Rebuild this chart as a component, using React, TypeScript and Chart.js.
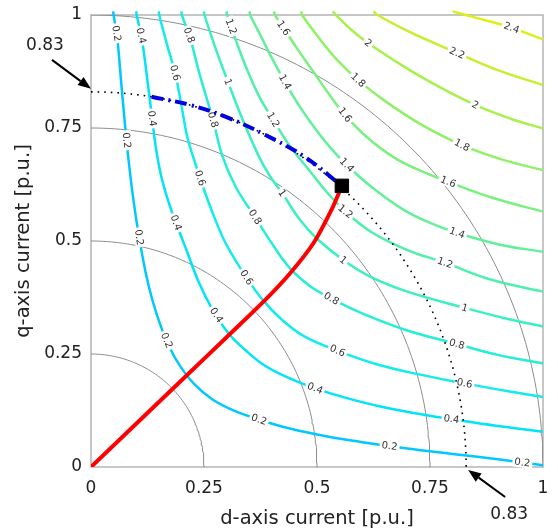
import React, { useEffect, useRef } from 'react';
import { Chart, registerables } from 'chart.js';

Chart.register(...registerables);

type P = [number, number];

// ---------- axes ----------
const xTicks = [0, 0.25, 0.5, 0.75, 1];
const yTicks = [0, 0.25, 0.5, 0.75, 1];
const xTitle = 'd-axis current [p.u.]';
const yTitle = 'q-axis current [p.u.]';

// ---------- torque contour levels ----------
const contourLevels = [0.2, 0.4, 0.6, 0.8, 1, 1.2, 1.4, 1.6, 1.8, 2, 2.2, 2.4];
const contourColors = [
  '#00c8ff', '#00e4f6', '#12ecea', '#26eed6', '#3af0c2', '#4ef0ac',
  '#62f098', '#7af07e', '#90f066', '#a8f04c', '#c4f02e', '#dcf014',
];

// contour lines (id, iq)
const c02: P[] = [[0.049, 1.008], [0.05, 1.0], [0.058, 0.95], [0.066, 0.86], [0.074, 0.77], [0.083, 0.68], [0.094, 0.59], [0.107, 0.505], [0.121, 0.43], [0.137, 0.365], [0.155, 0.31], [0.175, 0.262], [0.198, 0.222], [0.228, 0.184], [0.268, 0.15], [0.318, 0.124], [0.374, 0.104], [0.44, 0.085], [0.52, 0.068], [0.6, 0.055], [0.7, 0.041], [0.8, 0.029], [0.9, 0.017], [1.0, 0.004], [1.008, 0.003]];
const c04: P[] = [[0.1, 1.008], [0.101, 1.0], [0.112, 0.95], [0.123, 0.87], [0.133, 0.79], [0.143, 0.71], [0.155, 0.645], [0.172, 0.585], [0.192, 0.53], [0.213, 0.475], [0.238, 0.41], [0.268, 0.35], [0.304, 0.296], [0.34, 0.26], [0.385, 0.224], [0.44, 0.196], [0.496, 0.174], [0.56, 0.154], [0.64, 0.134], [0.74, 0.115], [0.85, 0.098], [0.93, 0.087], [1.0, 0.078], [1.008, 0.077]];
const c06: P[] = [[0.15, 1.008], [0.151, 1.0], [0.168, 0.935], [0.186, 0.872], [0.2, 0.8], [0.213, 0.73], [0.228, 0.68], [0.246, 0.625], [0.268, 0.565], [0.293, 0.505], [0.318, 0.46], [0.345, 0.418], [0.378, 0.372], [0.42, 0.328], [0.47, 0.29], [0.546, 0.257], [0.63, 0.228], [0.72, 0.206], [0.827, 0.185], [0.92, 0.168], [1.0, 0.155], [1.008, 0.154]];
const c08: P[] = [[0.2, 1.008], [0.201, 1.0], [0.219, 0.95], [0.24, 0.87], [0.27, 0.768], [0.29, 0.69], [0.32, 0.62], [0.363, 0.553], [0.4, 0.495], [0.44, 0.44], [0.485, 0.4], [0.533, 0.372], [0.6, 0.34], [0.7, 0.302], [0.81, 0.272], [0.9, 0.248], [1.0, 0.229], [1.008, 0.228]];
const c10: P[] = [[0.25, 1.008], [0.251, 1.0], [0.276, 0.925], [0.303, 0.852], [0.335, 0.77], [0.37, 0.69], [0.395, 0.645], [0.423, 0.606], [0.46, 0.55], [0.5, 0.505], [0.558, 0.458], [0.62, 0.42], [0.7, 0.388], [0.827, 0.352], [0.92, 0.328], [1.0, 0.311], [1.008, 0.31]];
const c12: P[] = [[0.3, 1.008], [0.301, 1.0], [0.322, 0.94], [0.345, 0.88], [0.372, 0.82], [0.403, 0.768], [0.44, 0.71], [0.48, 0.66], [0.52, 0.61], [0.562, 0.566], [0.62, 0.52], [0.7, 0.48], [0.783, 0.452], [0.88, 0.416], [1.0, 0.388], [1.008, 0.387]];
const c14: P[] = [[0.351, 1.008], [0.352, 1.0], [0.375, 0.955], [0.4, 0.905], [0.429, 0.852], [0.46, 0.8], [0.495, 0.75], [0.53, 0.706], [0.566, 0.668], [0.62, 0.62], [0.69, 0.57], [0.75, 0.54], [0.81, 0.518], [0.9, 0.493], [1.0, 0.476], [1.008, 0.475]];
const c16: P[] = [[0.405, 1.008], [0.407, 1.0], [0.43, 0.965], [0.46, 0.92], [0.495, 0.87], [0.53, 0.82], [0.562, 0.779], [0.61, 0.73], [0.67, 0.685], [0.73, 0.655], [0.79, 0.631], [0.89, 0.595], [1.0, 0.565], [1.008, 0.564]];
const c18: P[] = [[0.465, 1.008], [0.467, 1.0], [0.5, 0.955], [0.545, 0.9], [0.591, 0.856], [0.65, 0.81], [0.73, 0.758], [0.821, 0.712], [0.91, 0.68], [1.0, 0.657], [1.008, 0.656]];
const c20: P[] = [[0.535, 1.008], [0.542, 1.0], [0.575, 0.968], [0.613, 0.938], [0.67, 0.9], [0.75, 0.852], [0.85, 0.801], [0.93, 0.77], [1.0, 0.749], [1.008, 0.747]];
const c22: P[] = [[0.625, 1.008], [0.634, 1.0], [0.69, 0.97], [0.75, 0.942], [0.81, 0.916], [0.9, 0.878], [1.0, 0.845], [1.008, 0.843]];
const c24: P[] = [[0.8, 1.008], [0.855, 0.993], [0.93, 0.972], [1.0, 0.946], [1.008, 0.944]];
const contourLines: P[][] = [c02, c04, c06, c08, c10, c12, c14, c16, c18, c20, c22, c24];

// inline contour label spots (id, iq)
const lab02: P[] = [[0.06, 0.96], [0.08, 0.723], [0.113, 0.509], [0.17, 0.281], [0.374, 0.111], [0.661, 0.049], [0.956, 0.022]];
const lab04: P[] = [[0.119, 0.956], [0.142, 0.772], [0.192, 0.542], [0.285, 0.341], [0.496, 0.175], [0.799, 0.115]];
const lab06: P[] = [[0.186, 0.872], [0.241, 0.639], [0.345, 0.42], [0.546, 0.259], [0.827, 0.188]];
const lab08: P[] = [[0.219, 0.956], [0.27, 0.768], [0.363, 0.553], [0.533, 0.374], [0.81, 0.274]];
const lab10: P[] = [[0.303, 0.852], [0.423, 0.606], [0.558, 0.458], [0.827, 0.354]];
const lab12: P[] = [[0.319, 0.978], [0.403, 0.768], [0.562, 0.564], [0.783, 0.451]];
const lab14: P[] = [[0.429, 0.852], [0.566, 0.668], [0.81, 0.518]];
const lab16: P[] = [[0.429, 0.973], [0.562, 0.779], [0.79, 0.631]];
const lab18: P[] = [[0.591, 0.856], [0.821, 0.712]];
const lab20: P[] = [[0.613, 0.938], [0.85, 0.801]];
const lab22: P[] = [[0.81, 0.916]];
const lab24: P[] = [[0.931, 0.973]];
const contourLabelSpots: P[][] = [lab02, lab04, lab06, lab08, lab10, lab12, lab14, lab16, lab18, lab20, lab22, lab24];

// ---------- current circles ----------
const circleRadii = [0.25, 0.5, 0.75, 1];
const limitRadius = 0.83;

// ---------- trajectories ----------
const mtpaD = [0, 0.208, 0.3, 0.385, 0.44, 0.492, 0.532, 0.555];
const mtpaQ = [0, 0.199, 0.287, 0.369, 0.428, 0.495, 0.569, 0.622];
const fwD = [0.134, 0.219, 0.3, 0.385, 0.473, 0.555];
const fwQ = [0.819, 0.801, 0.774, 0.735, 0.686, 0.622];
const opPointD = [0.555];
const opPointQ = [0.622];

// ---------- annotations ----------
const annotations = [
  { axis: 'y', value: 0.83, text: '0.83' },
  { axis: 'x', value: 0.83, text: '0.83' },
];

const FONT = '"DejaVu Sans", Verdana, sans-serif';

function arcPoints(r: number, fromDeg: number, toDeg: number, step = 1) {
  const pts: { x: number; y: number }[] = [];
  const n = Math.ceil(Math.abs(toDeg - fromDeg) / step);
  for (let i = 0; i <= n; i++) {
    const a = ((fromDeg + ((toDeg - fromDeg) * i) / n) * Math.PI) / 180;
    pts.push({ x: r * Math.cos(a), y: r * Math.sin(a) });
  }
  return pts;
}

function drawContourLabels(chart: any) {
  const ctx: CanvasRenderingContext2D = chart.ctx;
  const xs = chart.scales.x;
  const ys = chart.scales.y;
  ctx.save();
  ctx.font = `10px ${FONT}`;
  ctx.textAlign = 'center';
  ctx.textBaseline = 'middle';
  contourLines.forEach((line, li) => {
    const px = line.map(([x, y]) => [xs.getPixelForValue(x), ys.getPixelForValue(y)]);
    contourLabelSpots[li].forEach(([lx, ly]) => {
      const p = [xs.getPixelForValue(lx), ys.getPixelForValue(ly)];
      let best = { d: Infinity, x: p[0], y: p[1], ang: 0 };
      for (let i = 0; i < px.length - 1; i++) {
        const [x1, y1] = px[i];
        const [x2, y2] = px[i + 1];
        const vx = x2 - x1;
        const vy = y2 - y1;
        const L = vx * vx + vy * vy;
        let t = L ? ((p[0] - x1) * vx + (p[1] - y1) * vy) / L : 0;
        t = Math.max(0, Math.min(1, t));
        const qx = x1 + t * vx;
        const qy = y1 + t * vy;
        const d = (qx - p[0]) ** 2 + (qy - p[1]) ** 2;
        if (d < best.d) best = { d, x: qx, y: qy, ang: Math.atan2(vy, vx) };
      }
      let ang = best.ang;
      if (ang > Math.PI / 2) ang -= Math.PI;
      if (ang < -Math.PI / 2) ang += Math.PI;
      const text = String(contourLevels[li]);
      const w = ctx.measureText(text).width;
      ctx.save();
      ctx.translate(best.x, best.y);
      ctx.rotate(ang);
      ctx.fillStyle = '#ffffff';
      ctx.fillRect(-w / 2 - 2, -5, w + 4, 10);
      ctx.fillStyle = '#333333';
      ctx.fillText(text, 0, 0.5);
      ctx.restore();
    });
  });
  ctx.restore();
}

function drawArrow(ctx: CanvasRenderingContext2D, fx: number, fy: number, tx: number, ty: number) {
  const ang = Math.atan2(ty - fy, tx - fx);
  const head = 13;
  const half = 5;
  const bx = tx - head * Math.cos(ang);
  const by = ty - head * Math.sin(ang);
  ctx.beginPath();
  ctx.moveTo(fx, fy);
  ctx.lineTo(bx, by);
  ctx.strokeStyle = '#000';
  ctx.lineWidth = 2;
  ctx.stroke();
  ctx.beginPath();
  ctx.moveTo(tx, ty);
  ctx.lineTo(bx + half * Math.sin(ang), by - half * Math.cos(ang));
  ctx.lineTo(bx - half * Math.sin(ang), by + half * Math.cos(ang));
  ctx.closePath();
  ctx.fillStyle = '#000';
  ctx.fill();
}

const decorPlugin = {
  id: 'decor',
  beforeDatasetsDraw(chart: any) {
    const { ctx, chartArea } = chart;
    ctx.save();
    ctx.strokeStyle = '#b4b4b4';
    ctx.lineWidth = 1.5;
    ctx.strokeRect(chartArea.left, chartArea.top, chartArea.right - chartArea.left, chartArea.bottom - chartArea.top);
    ctx.restore();
  },
  beforeDatasetDraw(chart: any, args: any) {
    const ds = chart.data.datasets[args.index];
    if (ds && ds.kind === 'limit') drawContourLabels(chart);
  },
  afterDraw(chart: any) {
    const ctx: CanvasRenderingContext2D = chart.ctx;
    const xs = chart.scales.x;
    const ys = chart.scales.y;
    ctx.save();
    ctx.font = `17px ${FONT}`;
    ctx.fillStyle = '#222';
    ctx.textAlign = 'center';
    ctx.textBaseline = 'middle';
    annotations.forEach((a) => {
      if (a.axis === 'y') {
        const tx = xs.getPixelForValue(0);
        const ty = ys.getPixelForValue(a.value) - 3;
        drawArrow(ctx, tx - 39, ty - 29, tx, ty);
        ctx.fillStyle = '#222';
        ctx.fillText(a.text, tx - 46, ty - 43);
      } else {
        const tx = xs.getPixelForValue(a.value) + 2;
        const ty = ys.getPixelForValue(0) + 3;
        drawArrow(ctx, tx + 37, ty + 27, tx, ty);
        ctx.fillStyle = '#222';
        ctx.fillText(a.text, tx + 41, ty + 45);
      }
    });
    ctx.restore();
  },
};

export default function App() {
  const ref = useRef<HTMLCanvasElement>(null);
  useEffect(() => {
    if (!ref.current) return;
    const datasets: any[] = [];
    circleRadii.forEach((r) => {
      datasets.push({
        kind: 'circle',
        data: arcPoints(r, 0, 90, 1),
        showLine: true,
        borderColor: '#8c8c8c',
        borderWidth: 1,
        pointRadius: 0,
        tension: 0,
        order: 20,
      });
    });
    contourLines.forEach((line, i) => {
      datasets.push({
        kind: 'contour',
        data: line.map(([x, y]) => ({ x, y })),
        showLine: true,
        borderColor: contourColors[i],
        borderWidth: 2.5,
        pointRadius: 0,
        tension: 0.4,
        order: 10,
        clip: 5,
      });
    });
    datasets.push({
      kind: 'limit',
      data: arcPoints(limitRadius, 90, 0, 0.5),
      showLine: true,
      borderColor: '#000',
      borderWidth: 1.6,
      borderDash: [1.6, 5],
      pointRadius: 0,
      tension: 0,
      order: 3,
    });
    datasets.push({
      kind: 'fw',
      data: fwD.map((x, i) => ({ x, y: fwQ[i] })),
      showLine: true,
      borderColor: '#0000e0',
      borderWidth: 4,
      borderDash: [12, 5, 2, 5],
      pointRadius: 0,
      tension: 0.4,
      order: 2,
    });
    datasets.push({
      kind: 'mtpa',
      data: mtpaD.map((x, i) => ({ x, y: mtpaQ[i] })),
      showLine: true,
      borderColor: '#ff0000',
      borderWidth: 4,
      pointRadius: 0,
      tension: 0.3,
      order: 1,
    });
    datasets.push({
      kind: 'op',
      data: opPointD.map((x, i) => ({ x, y: opPointQ[i] })),
      showLine: false,
      pointStyle: 'rect',
      pointRadius: 9.5,
      backgroundColor: '#000',
      borderColor: '#000',
      borderWidth: 1,
      order: 0,
      clip: false,
    });

    const tickFont = { family: FONT, size: 17 };
    const titleFont = { family: FONT, size: 19.5 };
    const chart = new Chart(ref.current, {
      type: 'scatter',
      data: { datasets },
      plugins: [decorPlugin],
      options: {
        animation: false,
        responsive: false,
        devicePixelRatio: 1,
        events: [],
        layout: { padding: { left: 0, right: 15, top: 15, bottom: 0 } },
        plugins: { legend: { display: false }, tooltip: { enabled: false }, title: { display: false } },
        scales: {
          x: {
            type: 'linear',
            min: 0,
            max: 1,
            grid: { display: false, drawTicks: false },
            border: { display: false },
            ticks: { font: tickFont, color: '#222', padding: 11, callback: (v: any) => String(v) },
            title: { display: true, text: xTitle, font: titleFont, color: '#222', padding: { top: 0, bottom: 0 } },
            afterBuildTicks: (s: any) => { s.ticks = xTicks.map((v) => ({ value: v })); },
            afterFit: (s: any) => { s.height = 64; s.paddingLeft = 0; s.paddingRight = 0; },
          },
          y: {
            type: 'linear',
            min: 0,
            max: 1,
            grid: { display: false, drawTicks: false },
            border: { display: false },
            ticks: { font: tickFont, color: '#222', padding: 9, callback: (v: any) => String(v) },
            title: { display: true, text: yTitle, font: titleFont, color: '#222', padding: { top: 12, bottom: 0 } },
            afterBuildTicks: (s: any) => { s.ticks = yTicks.map((v) => ({ value: v })); },
            afterFit: (s: any) => { s.width = 91; s.paddingTop = 0; s.paddingBottom = 0; },
          },
        },
      } as any,
    });
    return () => chart.destroy();
  }, []);
  return (
    <div style={{ position: 'fixed', left: 0, top: 0, width: 558, height: 531, background: '#fff' }}>
      <canvas ref={ref} width={558} height={531} style={{ display: 'block', width: 558, height: 531 }} />
    </div>
  );
}
